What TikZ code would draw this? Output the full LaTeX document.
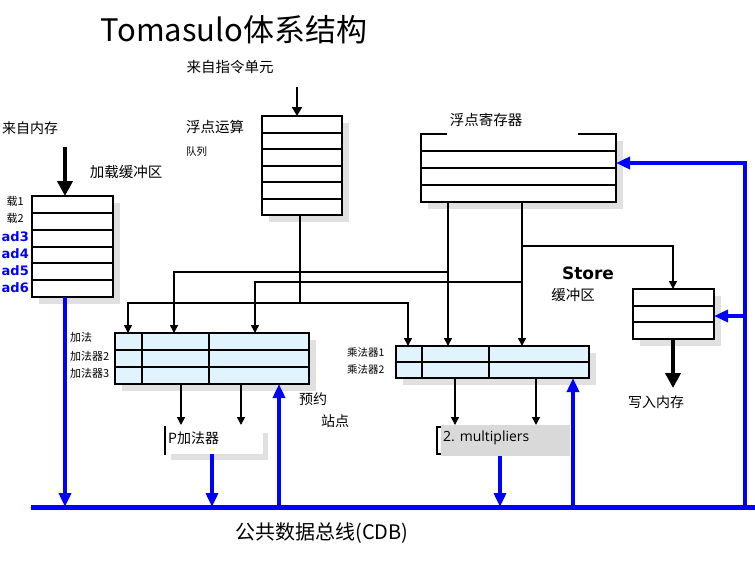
\documentclass[tikz,border=0pt]{standalone}
\usepackage{fontspec}
\setmainfont{Noto Sans CJK SC}
\newfontfamily\comic{DejaVu Sans}
\newfontfamily\uifont{Open Sans}
\usetikzlibrary{arrows.meta}
\definecolor{rsblue}{HTML}{E1F3FD}
\definecolor{shadegray}{HTML}{E0E0E0}
\definecolor{cdbblue}{HTML}{0000FF}
\newcommand{\pxfont}[1]{\fontsize{#1}{#1}\selectfont}
\tikzset{
  pics/row box/.style args={#1:#2:#3}{
    code={
      \fill[shadegray] (7, 7) rectangle ++(#1, #2);
      \filldraw[pic actions] (0, 0) rectangle (#1, #2);
      \foreach \k in {2,...,#3}
        \draw[pic actions] (0, {(\k - 1)*#2/#3}) -- (#1, {(\k - 1)*#2/#3});
    }
  },
  box/.style = {line width = 2pt, fill = white},
  feed/.style = {line width = 1.5pt, -{Triangle[length = 8pt, width = 8pt]}},
  cdb/.style = {cdbblue, line width = 4pt, -{Triangle[length = 14pt, width = 12pt]}},
  memory/.style = {line width = 4.5pt, -{Triangle[length = 15pt, width = 15pt]}},
}

\begin{document}
\begin{tikzpicture}[x = 1pt, y = -1pt]

			\useasboundingbox (0, 0) rectangle (755, 566);

			\node (title) at (234, 30) {\pxfont{31}Tomasulo体系结构};

			% instruction queue
			\node (iu) at (230, 67) {\pxfont{14.5}来自指令单元};
			\node (qname) at (215, 127) {\pxfont{14.5}浮点运算};
			\node[anchor = west, inner sep = 0] (qsub) at (186, 152) {\pxfont{10.5}队列};
			\pic[box] at (262, 116) {row box = 80:99:6};
			\draw (297, 87) coordinate (I) (297, 116) coordinate (Q);
			\draw[line width = 2.5pt, -{Triangle[length = 9pt, width = 10pt]}] (I) -- (Q);

			% load buffers
			\node (mem) at (30, 128) {\pxfont{14}来自内存};
			\node (lname) at (126, 172) {\pxfont{14.5}加载缓冲区};
			\pic[box] at (32, 196) {row box = 81:101:6};
			\draw (65, 147) coordinate (M) (65, 196) coordinate (L);
			\draw[memory] (M) -- (L);
			\foreach \n/\y in {1/201, 2/218}
				\node[anchor = east, inner sep = 0] (load\n) at (24, \y) {\pxfont{11}载\n};
			\foreach \n/\y in {3/237, 4/254, 5/271, 6/288}
				\node[anchor = east, inner sep = 0, text = cdbblue] (load\n) at (29, \y) {\comic\bfseries\pxfont{13}ad\n};

			% register file
			\fill[shadegray] (428, 141) rectangle (623, 209);
			\fill[white] (421, 134) rectangle (616, 202);
			\draw[line width = 2pt] (447, 134) -- (421, 134) -- (421, 202) -- (616, 202) -- (616, 134) -- (578, 134);
			\foreach \y in {151, 168, 185}
				\draw[line width = 2pt] (421, \y) -- (616, \y);
			\node (rname) at (486, 120) {\pxfont{14.5}浮点寄存器};

			% store buffers
			\pic[box] at (633, 289) {row box = 81:50:3};
			\node[font = \comic\bfseries] (sname) at (588, 273) {\pxfont{17}Store};
			\node (ssub) at (573, 295) {\pxfont{14.5}缓冲区};
			\node (wmem) at (656, 402) {\pxfont{14}写入内存};
			\draw (673, 339) coordinate (S) (673, 388) coordinate (W);
			\draw[memory] (S) -- (W);

			% reservation stations
			\pic[box, fill = rsblue] at (115, 333) {row box = 194:51:3};
			\draw[line width = 2pt] (142, 333) -- (142, 384) (209, 333) -- (209, 384);
			\pic[box, fill = rsblue] at (396, 346) {row box = 193:32:2};
			\draw[line width = 2pt] (422, 346) -- (422, 378) (489, 346) -- (489, 378);
			\node[anchor = west, inner sep = 0] (add1) at (70, 337) {\pxfont{11}加法};
			\node[anchor = west, inner sep = 0] (add2) at (70, 356) {\pxfont{11}加法器2};
			\node[anchor = west, inner sep = 0] (add3) at (70, 373) {\pxfont{11}加法器3};
			\node[anchor = west, inner sep = 0] (mul1) at (347, 353) {\pxfont{10.5}乘法器1};
			\node[anchor = west, inner sep = 0] (mul2) at (347, 370) {\pxfont{10.5}乘法器2};
			\node (rs1) at (313, 399) {\pxfont{14}预约};
			\node (rs2) at (335, 421) {\pxfont{14}站点};

			% operand feeds
			\draw (300, 215) coordinate (Qo) (300, 303) coordinate (Qj);
			\draw (128, 333) coordinate (A1) (174, 333) coordinate (A2) (255, 333) coordinate (A3);
			\draw (408, 346) coordinate (B1) (448, 346) coordinate (B2) (522, 346) coordinate (B3);
			\draw (448, 202) coordinate (R1) (522, 202) coordinate (R2);
			\draw (448, 272) coordinate (R1j) (522, 282) coordinate (R2j) (522, 246) coordinate (R2s);
			\draw (673, 289) coordinate (Si);
			\draw[line width = 1.5pt] (Qo) -- (Qj);
			\draw[feed] (Qj) -| (A1);
			\draw[feed] (Qj) -| (B1);
			\draw[feed] (R1) -- (B2);
			\draw[feed] (R2) -- (B3);
			\draw[feed] (R1j) -| (A2);
			\draw[feed] (R2j) -| (A3);
			\draw[feed] (R2s) -| (Si);

			% functional units
			\fill[shadegray] (171, 433) rectangle (268, 460);
			\fill[white] (165, 425) rectangle (263, 454);
			\draw[line width = 1.5pt] (165, 426) -- (165, 455);
			\node[anchor = west, inner sep = 0] (adder) at (168, 438) {\pxfont{14}P加法器};
			\fill[gray!30] (441, 425) rectangle (570, 456);
			\draw[line width = 2pt] (441, 427) -- (437, 427) -- (437, 454) -- (441, 454);
			\node[anchor = west, inner sep = 0] (mult) at (443, 438) {\uifont\pxfont{14}2. multipliers};
			\foreach \x/\t/\b in {181/384/425, 241/384/425, 455/378/425, 536/378/425}
				\draw[feed] (\x, \t) coordinate (f\x) -- (\x, \b) coordinate (g\x);

			% common data bus
			\draw[cdbblue, line width = 5pt] (31, 507) coordinate (C) -- (755, 507) coordinate (D);
			\node (cname) at (322, 533) {\pxfont{20}公共数据总线(CDB)};
			\draw (65, 297) coordinate (Lo) (65, 507) coordinate (Lc);
			\draw (212, 454) coordinate (Ao) (212, 507) coordinate (Ac);
			\draw (500, 456) coordinate (Bo) (500, 507) coordinate (Bc);
			\draw (279, 507) coordinate (Ai) (279, 384) coordinate (Ar);
			\draw (573, 507) coordinate (Bi) (573, 378) coordinate (Br);
			\draw (745, 507) coordinate (E) (616, 163) coordinate (Rr) (714, 316) coordinate (Sr);
			\draw[cdb] (Lo) -- (Lc);
			\draw[cdb] (Ao) -- (Ac);
			\draw[cdb] (Bo) -- (Bc);
			\draw[cdb] (Ai) -- (Ar);
			\draw[cdb] (Bi) -- (Br);
			\draw[cdb] (E) |- (Rr);
			\draw[cdb] (E |- Sr) -- (Sr);
		\end{tikzpicture}
\end{document}
